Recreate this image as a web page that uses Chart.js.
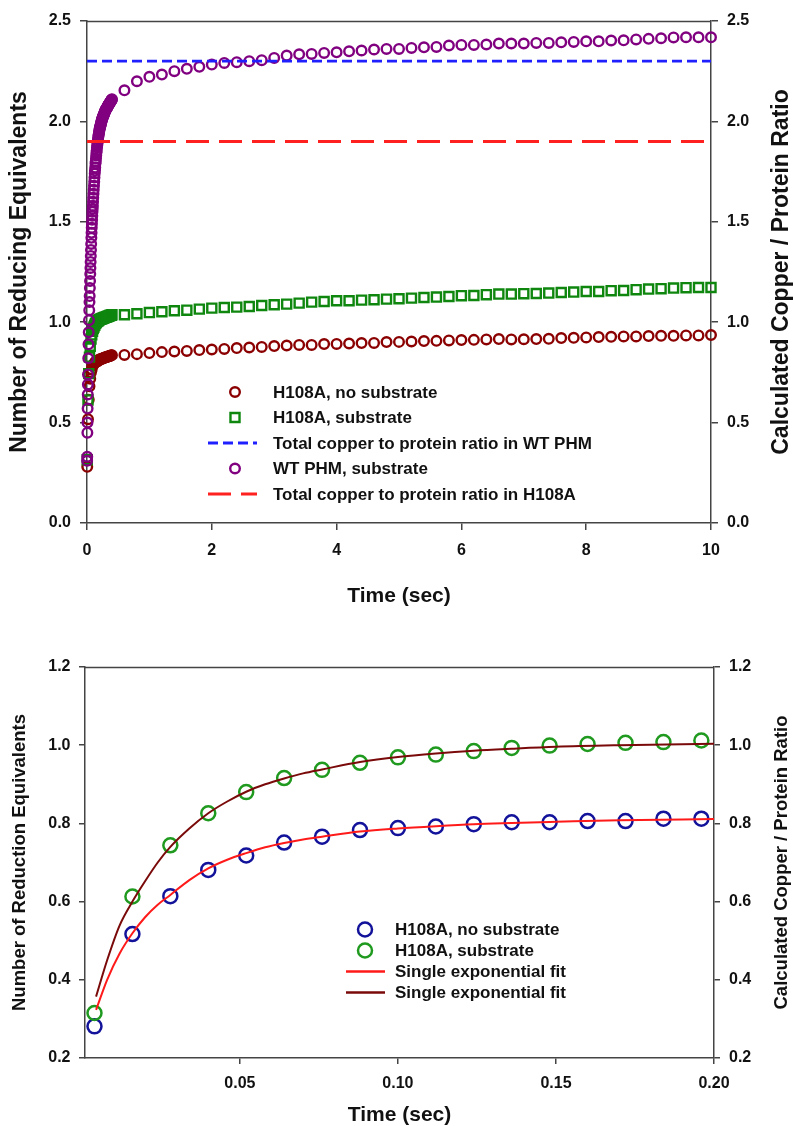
<!DOCTYPE html>
<html><head><meta charset="utf-8">
<script src="https://cdn.jsdelivr.net/npm/chart.js@4.4.1/dist/chart.umd.min.js"></script>
<style>
html,body{margin:0;padding:0;background:#fff;}
#wrap{position:relative;width:794px;height:1126px;overflow:hidden;background:#fff;}
canvas{position:absolute;left:0;}
#c1{top:0;width:794px;height:620px;}
#c2{top:620px;width:794px;height:506px;}
</style></head><body>
<div id="wrap"><canvas id="c1" width="794" height="620"></canvas><canvas id="c2" width="794" height="506"></canvas></div>
<script>
// ---------------- TOP CHART DATA ----------------
const topXTicks = [0, 2, 4, 6, 8, 10];
const topYTicks = [0.0, 0.5, 1.0, 1.5, 2.0, 2.5];
const denseTimes = [0.004,0.016,0.028,0.040,0.052,0.064,0.076,0.088,0.100,0.112,0.124,0.136,0.148,0.160,0.172,0.184,0.196,
  0.208,0.220,0.232,0.244,0.256,0.268,0.280,0.292,0.304,0.316,0.328,0.340,0.352,0.364,0.376,0.388,0.400];
const sparseTimes = [0.6,0.8,1.0,1.2,1.4,1.6,1.8,2.0,2.2,2.4,2.6,2.8,3.0,3.2,3.4,3.6,3.8,4.0,4.2,4.4,4.6,4.8,5.0,5.2,5.4,5.6,5.8,6.0,
  6.2,6.4,6.6,6.8,7.0,7.2,7.4,7.6,7.8,8.0,8.2,8.4,8.6,8.8,9.0,9.2,9.4,9.6,9.8,10.0];
const noSubDense = [0.280,0.517,0.614,0.681,0.718,0.751,0.766,0.783,0.788,0.792,0.798,0.803,0.803,0.806,0.806,0.812,0.812,
  0.815,0.816,0.818,0.818,0.820,0.822,0.823,0.825,0.825,0.827,0.828,0.830,0.830,0.832,0.833,0.835,0.836];
const noSubSparse = [0.837,0.841,0.846,0.851,0.854,0.857,0.861,0.864,0.867,0.871,0.874,0.877,0.881,0.884,0.887,
  0.887,0.891,0.892,0.894,0.896,0.897,0.901,0.902,0.904,0.906,0.907,0.909,0.911,0.912,0.914,0.916,
  0.914,0.915,0.916,0.917,0.921,0.922,0.924,0.926,0.927,0.929,0.929,0.931,0.932,0.932,0.934,0.934,0.936];
const subDense = [0.315,0.613,0.744,0.826,0.880,0.916,0.937,0.955,0.969,0.976,0.985,0.993,0.999,1.003,1.006,1.008,1.012,
  1.014,1.015,1.017,1.018,1.020,1.021,1.023,1.024,1.025,1.027,1.028,1.030,1.031,1.033,1.034,1.035,1.037];
const subSparse = [1.037,1.042,1.048,1.052,1.057,1.060,1.065,1.070,1.073,1.075,1.078,1.083,1.087,1.090,1.095,
  1.100,1.103,1.107,1.107,1.110,1.112,1.115,1.117,1.120,1.123,1.125,1.128,1.132,1.133,1.137,1.140,
  1.140,1.142,1.143,1.145,1.148,1.150,1.153,1.153,1.157,1.158,1.162,1.165,1.167,1.170,1.172,1.173,1.173];
const wtDenseTimes = [0.002,0.004,0.006,0.008,0.010,0.012,0.014,0.016,
  0.020,0.024,0.028,0.032,0.036,0.040,
  0.043,0.046,0.049,0.052,0.055,0.058,0.061,0.064,0.067,0.070,0.073,0.076,0.079,0.082,0.085,0.088,0.091,0.094,0.097,0.100,
  0.104,0.108,0.112,0.116,0.120,0.124,0.128,0.132,0.136,0.140,0.144,0.148,0.152,0.156,0.160,0.164,0.168,0.172,0.176,0.180,
  0.184,0.188,0.192,0.196,0.200,0.204,0.208,0.212,0.216,0.220,0.224,0.228,0.232,0.236,0.240,0.244,0.248,0.252,0.256,0.260,
  0.264,0.268,0.272,0.276,0.280,0.284,0.288,0.292,0.296,0.300,0.304,0.308,0.312,0.316,0.320,0.324,0.328,0.332,0.336,0.340,
  0.344,0.348,0.352,0.356,0.360,0.364,0.368,0.372,0.376,0.380,0.384,0.388,0.392,0.396,0.400];
const wtDense = [0.31,0.33,0.45,0.50,0.57,0.64,0.69,0.74,
  0.82,0.89,0.95,1.01,1.06,1.10,
  1.13,1.17,1.205,1.24,1.27,1.30,1.33,1.36,1.39,1.42,1.445,1.47,1.49,1.51,1.53,1.55,1.565,1.58,1.60,1.62,
  1.64,1.66,1.68,1.70,1.72,1.74,1.755,1.77,1.79,1.80,1.815,1.83,1.845,1.855,1.87,1.88,1.89,1.90,1.91,1.92,
  1.93,1.935,1.945,1.95,1.96,1.965,1.97,1.975,1.98,1.985,1.99,1.995,2.00,2.005,2.01,2.013,2.017,2.02,2.024,2.027,
  2.03,2.033,2.036,2.04,2.043,2.046,2.05,2.052,2.055,2.058,2.06,2.062,2.064,2.066,2.068,2.07,2.072,2.075,2.078,2.08,
  2.082,2.084,2.086,2.088,2.09,2.092,2.094,2.096,2.098,2.10,2.102,2.104,2.106,2.108,2.11];
const wtSparse = [2.155,2.200,2.222,2.233,2.250,2.262,2.272,2.283,2.291,2.295,2.300,2.305,2.316,2.328,2.334,
  2.336,2.341,2.344,2.349,2.353,2.358,2.361,2.361,2.366,2.369,2.371,2.378,2.381,2.381,2.383,2.388,
  2.388,2.388,2.391,2.391,2.394,2.396,2.399,2.399,2.403,2.404,2.408,2.411,2.414,2.418,2.419,2.419,2.419];
const copperLineTimes = [0, 10];
const wtCopperRatio = 2.3;
const h108aCopperRatio = 1.9;

// ---------------- BOTTOM CHART DATA ----------------
const botXTicks = [0.05, 0.10, 0.15, 0.20];
const botYTicks = [0.2, 0.4, 0.6, 0.8, 1.0, 1.2];
const botTimes = [0.004,0.016,0.028,0.040,0.052,0.064,0.076,0.088,0.100,0.112,0.124,0.136,0.148,0.160,0.172,0.184,0.196];
const botNoSub = [0.281,0.517,0.614,0.681,0.718,0.751,0.766,0.783,0.788,0.792,0.798,0.803,0.803,0.806,0.806,0.812,0.812];
const botSub = [0.315,0.613,0.744,0.826,0.880,0.916,0.937,0.955,0.969,0.976,0.985,0.993,0.999,1.003,1.006,1.008,1.012];
const fitTimes = [0.0045,0.008,0.012,0.016,0.020,0.024,0.028,0.034,0.040,0.046,0.052,0.058,0.064,0.070,0.076,0.088,0.100,0.112,0.124,0.136,0.150,0.170,0.200];
const fitNoSub = [0.323,0.400,0.468,0.519,0.560,0.592,0.617,0.655,0.685,0.707,0.724,0.739,0.750,0.759,0.766,0.779,0.787,0.793,0.798,0.801,0.804,0.808,0.811];
const fitSub = [0.357,0.450,0.540,0.600,0.652,0.700,0.740,0.787,0.826,0.856,0.881,0.900,0.915,0.928,0.938,0.957,0.970,0.979,0.986,0.991,0.996,1.000,1.004];

// ---------------- STYLE ----------------
const FONT = "'Liberation Sans', Arial, Helvetica, sans-serif";
const TXT = '#111';
const AX = '#444';
const C = {darkred:'#8b0000', green:'#0f870f', purple:'#800080', blue:'#2020ff', red:'#ff2020',
  navy:'#12129a', green2:'#1f9a1f', fitRed:'#ff1a1a', fitDark:'#7a0a0a'};
const NONE = 'rgba(0,0,0,0)';

const pts = (xs, ys) => xs.map((x, i) => ({x: x, y: ys[i]}));

const frameTop = {
  id: 'frameTop',
  afterDraw(chart, args, o) {
    const {ctx, chartArea: a} = chart;
    ctx.save(); ctx.strokeStyle = o.color; ctx.lineWidth = o.width;
    ctx.beginPath(); ctx.moveTo(a.left, a.top + 0.5); ctx.lineTo(a.right, a.top + 0.5); ctx.stroke();
    ctx.restore();
  }
};
const sideTitle = {
  id: 'sideTitle',
  afterDraw(chart, args, o) {
    const {ctx, chartArea: a} = chart;
    ctx.save();
    ctx.translate(o.x, (a.top + a.bottom) / 2);
    ctx.rotate(-Math.PI / 2);
    ctx.font = 'bold ' + o.size + 'px ' + FONT;
    ctx.fillStyle = TXT; ctx.textAlign = 'center'; ctx.textBaseline = 'middle';
    ctx.fillText(o.text, 0, 0);
    ctx.restore();
  }
};
const insetLegend = {
  id: 'insetLegend',
  afterDraw(chart, args, o) {
    const ctx = chart.ctx;
    ctx.save();
    ctx.font = 'bold ' + o.size + 'px ' + FONT;
    ctx.textBaseline = 'middle'; ctx.textAlign = 'left';
    o.order.forEach((di, i) => {
      const ds = chart.data.datasets[di];
      const y = o.y0 + i * o.dy;
      if (ds.showLine) {
        ctx.strokeStyle = ds.borderColor; ctx.lineWidth = o.lineWidth;
        ctx.setLineDash(ds.borderDash || []);
        ctx.beginPath(); ctx.moveTo(o.lineX0, y); ctx.lineTo(o.lineX1, y); ctx.stroke();
        ctx.setLineDash([]);
      } else {
        ctx.strokeStyle = ds.borderColor; ctx.lineWidth = ds.pointBorderWidth;
        const r = ds.pointRadius;
        ctx.beginPath();
        if (ds.pointStyle === 'rect') { const s = r * Math.SQRT1_2; ctx.rect(o.markX - s, y - s, 2 * s, 2 * s); }
        else { ctx.arc(o.markX, y, r, 0, Math.PI * 2); }
        ctx.stroke();
      }
      ctx.fillStyle = TXT;
      ctx.fillText(ds.label, o.textX, y + 1);
    });
    ctx.restore();
  }
};

function yAxis(pos, min, max, ticksArr, width, tl, pad, size, title) {
  const ax = {
    type: 'linear', position: pos, min: min, max: max,
    afterBuildTicks: (s) => { s.ticks = ticksArr.map(v => ({value: v})); },
    afterFit: (s) => { s.width = width; },
    ticks: {color: TXT, padding: pad, font: {family: FONT, size: size, weight: 'bold'}, callback: v => Number(v).toFixed(1)},
    grid: {drawOnChartArea: false, drawTicks: true, tickLength: tl, color: AX, lineWidth: 1.5},
    border: {display: true, color: AX, width: 1.5},
    title: {display: false}
  };
  if (title) ax.title = title;
  return ax;
}

// ---------------- TOP CHART ----------------
new Chart(document.getElementById('c1'), {
  type: 'scatter',
  data: {datasets: [
    {label: 'H108A, no substrate', data: pts(denseTimes.concat(sparseTimes), noSubDense.concat(noSubSparse)),
      pointStyle: 'circle', pointRadius: 4.8, pointBorderWidth: 2.4, borderColor: C.darkred, pointBackgroundColor: NONE, backgroundColor: NONE, clip: false, order: 3},
    {label: 'H108A, substrate', data: pts(denseTimes.concat(sparseTimes), subDense.concat(subSparse)),
      pointStyle: 'rect', pointRadius: 6.4, pointBorderWidth: 2.4, borderColor: C.green, pointBackgroundColor: NONE, backgroundColor: NONE, clip: false, order: 2},
    {label: 'Total copper to protein ratio in WT PHM', data: pts(copperLineTimes, [wtCopperRatio, wtCopperRatio]),
      showLine: true, borderColor: C.blue, borderWidth: 2.8, borderDash: [10, 5], pointRadius: 0, order: -1},
    {label: 'WT PHM, substrate', data: pts(wtDenseTimes.concat(sparseTimes), wtDense.concat(wtSparse)),
      pointStyle: 'circle', pointRadius: 4.8, pointBorderWidth: 2.4, borderColor: C.purple, pointBackgroundColor: NONE, backgroundColor: NONE, clip: false, order: 1},
    {label: 'Total copper to protein ratio in H108A', data: pts(copperLineTimes, [h108aCopperRatio, h108aCopperRatio]),
      showLine: true, borderColor: C.red, borderWidth: 2.8, borderDash: [23, 10], pointRadius: 0, order: -2}
  ]},
  options: {
    responsive: false, animation: false, devicePixelRatio: 1, events: [],
    layout: {padding: {top: 21, left: 0, right: 0, bottom: 0}},
    plugins: {
      legend: {display: false}, tooltip: {enabled: false},
      frameTop: {color: AX, width: 1.5},
      sideTitle: {x: 782, size: 23, text: 'Calculated Copper / Protein Ratio'},
      insetLegend: {order: [0, 1, 2, 3, 4], y0: 392, dy: 25.5, markX: 235, lineX0: 208, lineX1: 257, textX: 273, size: 17, lineWidth: 3}
    },
    scales: {
      x: {
        type: 'linear', position: 'bottom', min: 0, max: 10,
        afterBuildTicks: (s) => { s.ticks = topXTicks.map(v => ({value: v})); },
        afterFit: (s) => { s.height = 97; },
        ticks: {color: TXT, padding: 11, font: {family: FONT, size: 16, weight: 'bold'}, callback: v => String(v)},
        grid: {drawOnChartArea: false, drawTicks: true, tickLength: 7, color: AX, lineWidth: 1.5},
        border: {display: true, color: AX, width: 1.5},
        title: {display: true, text: 'Time (sec)', color: TXT, font: {family: FONT, size: 21, weight: 'bold', lineHeight: 1}, padding: {top: 0, bottom: 13}}
      },
      y: yAxis('left', 0, 2.5, topYTicks, 87, 7, 9, 16,
        {display: true, text: 'Number of Reducing Equivalents', color: TXT, font: {family: FONT, size: 23, weight: 'bold', lineHeight: 1}, padding: {top: 8.5, bottom: 0}}),
      y2: yAxis('right', 0, 2.5, topYTicks, 83, 7, 9, 16, null)
    }
  },
  plugins: [frameTop, sideTitle, insetLegend]
});

// ---------------- BOTTOM CHART ----------------
new Chart(document.getElementById('c2'), {
  type: 'scatter',
  data: {datasets: [
    {label: 'H108A, no substrate', data: pts(botTimes, botNoSub),
      pointStyle: 'circle', pointRadius: 7, pointBorderWidth: 2.5, borderColor: C.navy, pointBackgroundColor: NONE, backgroundColor: NONE, clip: false, order: 2},
    {label: 'H108A, substrate', data: pts(botTimes, botSub),
      pointStyle: 'circle', pointRadius: 7, pointBorderWidth: 2.5, borderColor: C.green2, pointBackgroundColor: NONE, backgroundColor: NONE, clip: false, order: 1},
    {label: 'Single exponential fit', data: pts(fitTimes, fitNoSub),
      showLine: true, borderColor: C.fitRed, borderWidth: 2, pointRadius: 0, cubicInterpolationMode: 'monotone', order: 0},
    {label: 'Single exponential fit', data: pts(fitTimes, fitSub),
      showLine: true, borderColor: C.fitDark, borderWidth: 2, pointRadius: 0, cubicInterpolationMode: 'monotone', order: 0}
  ]},
  options: {
    responsive: false, animation: false, devicePixelRatio: 1, events: [],
    layout: {padding: {top: 47, left: 0, right: 0, bottom: 0}},
    plugins: {
      legend: {display: false}, tooltip: {enabled: false},
      frameTop: {color: AX, width: 1.5},
      sideTitle: {x: 782, size: 18.5, text: 'Calculated Copper / Protein Ratio'},
      insetLegend: {order: [0, 1, 2, 3], y0: 309.5, dy: 21, markX: 365, lineX0: 346, lineX1: 385, textX: 395, size: 17, lineWidth: 2.5}
    },
    scales: {
      x: {
        type: 'linear', position: 'bottom', min: 0.001, max: 0.2,
        afterBuildTicks: (s) => { s.ticks = botXTicks.map(v => ({value: v})); },
        afterFit: (s) => { s.height = 68; },
        ticks: {color: TXT, padding: 9.5, font: {family: FONT, size: 16, weight: 'bold'}, callback: v => Number(v).toFixed(2)},
        grid: {drawOnChartArea: false, drawTicks: true, tickLength: 6, color: AX, lineWidth: 1.5},
        border: {display: true, color: AX, width: 1.5},
        title: {display: true, text: 'Time (sec)', color: TXT, font: {family: FONT, size: 21, weight: 'bold', lineHeight: 1}, padding: {top: 0, bottom: 0}}
      },
      y: yAxis('left', 0.2, 1.2, botYTicks, 85, 6, 8.5, 16,
        {display: true, text: 'Number of Reduction Equivalents', color: TXT, font: {family: FONT, size: 18.5, weight: 'bold', lineHeight: 1}, padding: {top: 10.75, bottom: 0}}),
      y2: yAxis('right', 0.2, 1.2, botYTicks, 80, 6, 9, 16, null)
    }
  },
  plugins: [frameTop, sideTitle, insetLegend]
});
</script>
</body></html>
